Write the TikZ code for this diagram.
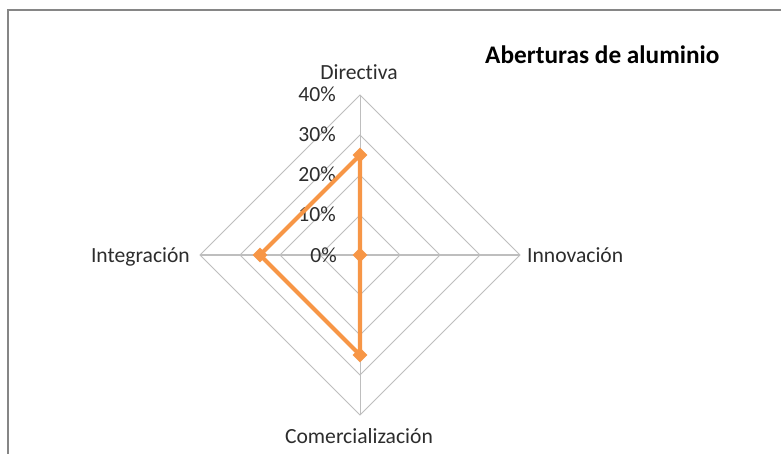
\documentclass[tikz,border=0pt]{standalone}
\usepackage{fontspec}
\setmainfont{Carlito}[Ligatures=NoCommon]
\usetikzlibrary{shapes.geometric}
\definecolor{frameg}{RGB}{134,134,134}
\definecolor{gridg}{RGB}{190,190,190}
\definecolor{serie}{RGB}{247,150,70}
\definecolor{labtxt}{RGB}{45,45,45}
\tikzset{
  lab/.style={inner sep=0pt, text=labtxt, font=\fontsize{21.6}{26}\selectfont},
  pct/.style={lab, anchor=base east},
  gridline/.style={draw=gridg, line width=1pt},
  marker/.style={diamond, fill=serie, inner sep=0pt, minimum width=15pt, minimum height=15pt},
  serieline/.style={draw=serie, line width=4.2pt, line join=miter}
}
\begin{document}
\begin{tikzpicture}[x=1pt,y=-1pt]
\useasboundingbox (0,0) rectangle (781,454);
\fill[white] (0,0) rectangle (781,454);
% frame
\draw[frameg, line width=2pt] (7.5,454) -- (7.5,10) -- (781,10);
% axes ends
\coordinate (c) at (360,255);
\coordinate (top) at (360,95);
\coordinate (rgt) at (520,255);
\coordinate (bot) at (360,415);
\coordinate (lft) at (200,255);
% grid
\foreach \r in {40,80,120,160}{
  \draw[gridline] (360,255-\r) -- (360+\r,255) -- (360,255+\r) -- (360-\r,255) -- cycle;
}
\draw[gridline] (c) -- (top);
\draw[gridline] (c) -- (rgt);
\draw[gridline] (c) -- (bot);
\draw[gridline] (c) -- (lft);
% percent labels
\node[pct] (p40) at (336,102) {40\%};
\node[pct] (p30) at (336,142) {30\%};
\node[pct] (p20) at (336,182) {20\%};
\node[pct] (p10) at (336,222) {10\%};
\node[pct] (p0) at (337,262) {0\%};
% axis labels
\node[lab, anchor=base] (ldir) at (359,80) {Directiva};
\node[lab, anchor=base west] (linn) at (527,262) {Innovación};
\node[lab, anchor=base] (lcom) at (359,443) {Comercialización};
\node[lab, anchor=base east] (lint) at (190,262) {Integración};
% title
\node[inner sep=0pt, anchor=base west, font=\fontsize{25.3}{30}\selectfont\bfseries] (title) at (485,64) {Aberturas de aluminio};
% data series
\coordinate (d1) at (360,155);
\coordinate (d2) at (360,255);
\coordinate (d3) at (360,355);
\coordinate (d4) at (260,255);
\draw[serieline] (d1) -- (d2) -- (d3) -- (d4) -- cycle;
\node[marker] (m1) at (d1) {};
\node[marker] (m2) at (d2) {};
\node[marker] (m3) at (d3) {};
\node[marker] (m4) at (d4) {};
\end{tikzpicture}
\end{document}
